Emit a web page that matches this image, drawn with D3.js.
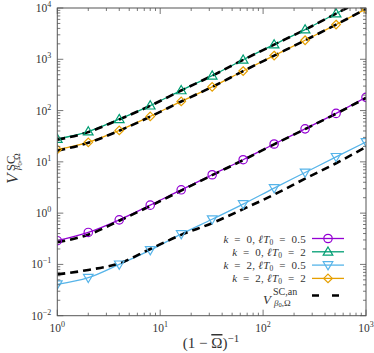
<!DOCTYPE html>
<html><head><meta charset="utf-8">
<script src="https://cdn.jsdelivr.net/npm/d3@7"></script>
<style>body{margin:0;background:#fff}</style>
</head><body>
<svg id="c" width="374" height="353"></svg>
<script>
const xs = [1,2,4,8,16,32,64,128,256,512,1000];
const k0_l05 = [0.29,0.42,0.74,1.43,2.85,5.6,11,22.3,44,88,181];
const k0_l2  = [28,39,68,125,248,480,980,1940,3800,7800,15500];
const k2_l05 = [0.041,0.055,0.10,0.19,0.39,0.76,1.5,3.08,6.2,12.5,24.4];
const k2_l2  = [17.5,24,41,77,151,290,590,1180,2350,4750,9600];
const an_k0_l05 = [0.27,0.38,0.71,1.38,2.75,5.5,10.8,22,43.5,87,176];
const an_k0_l2  = [27,38,67,124,246,478,975,1930,3790,7780,15400];
const an_k2_l05 = [0.064,0.078,0.105,0.2,0.377,0.64,1.2,2.3,4.7,9.4,19.5];
const an_k2_l2  = [16.5,23.5,40.5,76,150,289,588,1175,2345,4740,9580];
const xTicks = [1,10,100,1000];
const xTickExp = ["0","1","2","3"];
const yTicks = [0.01,0.1,1,10,100,1000,10000];
const yTickExp = ["\u22122","\u22121","0","1","2","3","4"];
const legendK = ["0","0","2","2"];
const legendLT = ["0.5","2","0.5","2"];

const series = [
  {vals:k0_l05, an:an_k0_l05, color:"#9400d3", marker:"circle"},
  {vals:k0_l2,  an:an_k0_l2,  color:"#009e73", marker:"up"},
  {vals:k2_l05, an:an_k2_l05, color:"#56b4e9", marker:"down"},
  {vals:k2_l2,  an:an_k2_l2,  color:"#e69f00", marker:"diamond"}
];

const L=57.3, R=366, T=8, B=315.7;
const svg = d3.select("#c");
const x = d3.scaleLog().domain([1,1000]).range([L,R]);
const y = d3.scaleLog().domain([0.01,10000]).range([B,T]);
const font = "'Liberation Serif', 'DejaVu Serif', serif";
const axisCol = "#555", textCol = "#333";

svg.append("defs").append("clipPath").attr("id","clip")
  .append("rect").attr("x",L).attr("y",T).attr("width",R-L).attr("height",B-T);

const gPlot = svg.append("g").attr("clip-path","url(#clip)");
const line = d3.line().x(d=>x(d[0])).y(d=>y(d[1])).curve(d3.curveMonotoneX);

series.forEach(s=>{
  gPlot.append("path").datum(xs.map((v,i)=>[v,s.vals[i]]))
    .attr("d",line).attr("fill","none").attr("stroke",s.color).attr("stroke-width",1.3);
});
series.forEach(s=>{
  gPlot.append("path").datum(xs.map((v,i)=>[v,s.an[i]]))
    .attr("d",line).attr("fill","none").attr("stroke","#000").attr("stroke-width",2.6)
    .attr("stroke-dasharray","8,5");
});
function marker(g, type, cx, cy, color){
  let el;
  if(type==="circle") el = g.append("circle").attr("cx",cx).attr("cy",cy).attr("r",4.2);
  else if(type==="up") el = g.append("path").attr("d",`M${cx},${cy-4.8}L${cx+4.8},${cy+3.4}L${cx-4.8},${cy+3.4}Z`);
  else if(type==="down") el = g.append("path").attr("d",`M${cx},${cy+4.8}L${cx+4.8},${cy-3.4}L${cx-4.8},${cy-3.4}Z`);
  else el = g.append("path").attr("d",`M${cx},${cy-4.3}L${cx+4.3},${cy}L${cx},${cy+4.3}L${cx-4.3},${cy}Z`);
  el.attr("fill","none").attr("stroke",color).attr("stroke-width",1.2);
}
const gMark = svg.append("g").attr("clip-path","url(#clip)");
series.forEach(s=>{
  xs.forEach((v,i)=>{ if(s.vals[i]<=10000) marker(gMark, s.marker, x(v), y(s.vals[i]), s.color); });
});

// frame and ticks
const gAx = svg.append("g");
gAx.append("rect").attr("x",L).attr("y",T).attr("width",R-L).attr("height",B-T)
  .attr("fill","none").attr("stroke",axisCol).attr("stroke-width",1);
function minorVals(lo,hi){const a=[];for(let e=lo;e<hi;e++)for(let m=2;m<=9;m++)a.push(m*Math.pow(10,e));return a;}
const xMinor = minorVals(0,3), yMinor = minorVals(-2,4);
const tk = (x1,y1,x2,y2)=>gAx.append("line").attr("x1",x1).attr("y1",y1).attr("x2",x2).attr("y2",y2).attr("stroke",axisCol).attr("stroke-width",0.8);
xTicks.forEach(v=>{tk(x(v),B,x(v),B-6);tk(x(v),T,x(v),T+6);});
xMinor.forEach(v=>{tk(x(v),B,x(v),B-3);tk(x(v),T,x(v),T+3);});
yTicks.forEach(v=>{tk(L,y(v),L+6,y(v));tk(R,y(v),R-6,y(v));});
yMinor.forEach(v=>{tk(L,y(v),L+3,y(v));tk(R,y(v),R-3,y(v));});

xTicks.forEach((v,i)=>{
  const t = gAx.append("text").attr("x",x(v)).attr("y",B+16).attr("text-anchor","middle")
    .attr("font-family",font).attr("font-size",11.5).attr("fill",textCol);
  t.append("tspan").text("10");
  t.append("tspan").attr("dy",-5).attr("font-size",8).text(xTickExp[i]);
});
yTicks.forEach((v,i)=>{
  const t = gAx.append("text").attr("x",L-6).attr("y",y(v)+4).attr("text-anchor","end")
    .attr("font-family",font).attr("font-size",11.5).attr("fill",textCol);
  t.append("tspan").text("10");
  t.append("tspan").attr("dy",-5).attr("font-size",8).text(yTickExp[i]);
});

// axis labels
const xl = svg.append("text").attr("x",211).attr("y",348).attr("text-anchor","middle")
  .attr("font-family",font).attr("font-size",15).attr("fill",textCol);
xl.append("tspan").text("(1 \u2212 ");
xl.append("tspan").attr("text-decoration","overline").text("\u03a9");
xl.append("tspan").text(")");
xl.append("tspan").attr("dy",-6).attr("font-size",11).text("\u22121");

const yg = svg.append("g").attr("transform","translate(18,184) rotate(-90)")
  .attr("font-family",font).attr("fill",textCol);
yg.append("text").attr("x",0).attr("y",0).attr("font-size",17).attr("font-style","italic").text("V");
yg.append("text").attr("x",13).attr("y",-3).attr("font-size",12.5).text("SC");
const ysub = yg.append("text").attr("x",14).attr("y",2).attr("font-size",9);
ysub.append("tspan").attr("font-style","italic").text("\u03b2");
ysub.append("tspan").attr("font-size",6.5).attr("dy",1.5).text("0");
ysub.append("tspan").attr("dy",-1.5).text(",\u03a9");

// legend
const lx = 306, rowY = [238.5,251.8,265.1,278.4];
series.forEach((s,i)=>{
  const t = svg.append("text").attr("x",lx).attr("y",rowY[i]+4).attr("text-anchor","end")
    .attr("font-family",font).attr("font-size",11).attr("letter-spacing",0.25).attr("fill",textCol);
  t.append("tspan").attr("font-style","italic").text("k");
  t.append("tspan").text("\u2002=\u2002"+legendK[i]+", ");
  t.append("tspan").attr("font-style","italic").text("\u2113T");
  t.append("tspan").attr("font-size",7.5).attr("dy",2).text("0");
  t.append("tspan").attr("dy",-2).text("\u2002=\u2002"+legendLT[i]);
  svg.append("line").attr("x1",312).attr("x2",344).attr("y1",rowY[i]).attr("y2",rowY[i])
    .attr("stroke",s.color).attr("stroke-width",1.3);
  marker(svg, s.marker, 328, rowY[i], s.color);
});
svg.append("text").attr("x",263).attr("y",303.5).attr("font-family",font).attr("font-size",13)
  .attr("font-style","italic").attr("fill",textCol).text("V");
svg.append("text").attr("x",273).attr("y",295).attr("font-family",font).attr("font-size",10)
  .attr("fill",textCol).text("SC,an");
const lb = svg.append("text").attr("x",274).attr("y",305.5)
  .attr("font-family",font).attr("font-size",9).attr("fill",textCol);
lb.append("tspan").attr("font-style","italic").text("\u03b2");
lb.append("tspan").attr("font-size",6.5).attr("dy",1.5).text("0");
lb.append("tspan").attr("dy",-1.5).text(",\u03a9");
svg.append("line").attr("x1",312).attr("x2",346).attr("y1",295.5).attr("y2",295.5)
  .attr("stroke","#000").attr("stroke-width",2.6).attr("stroke-dasharray","7,13");
</script>
</body></html>
